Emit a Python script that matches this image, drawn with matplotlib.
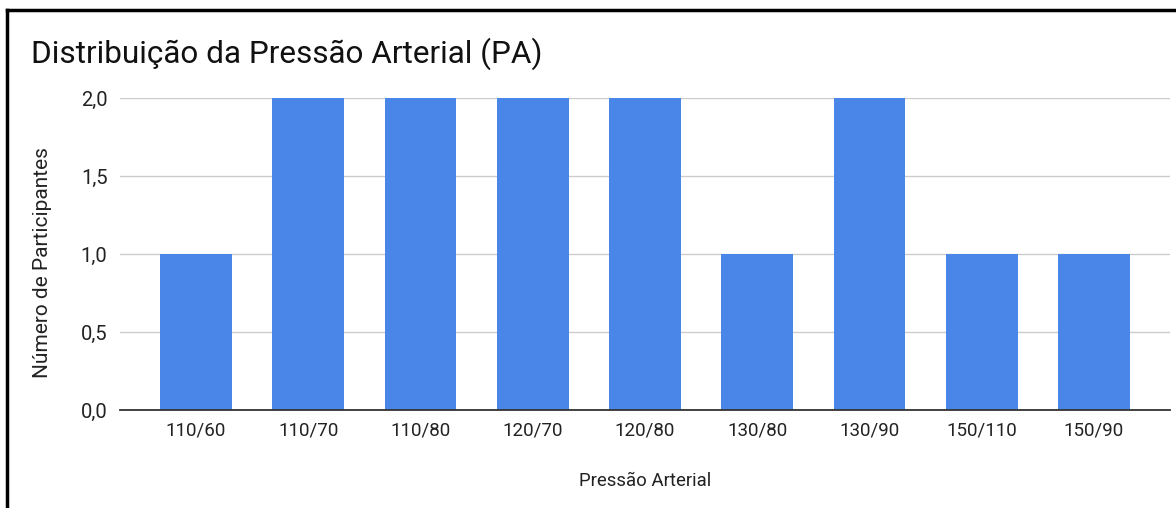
import matplotlib.pyplot as plt
from matplotlib.lines import Line2D

# Data
categorias = ['110/60', '110/70', '110/80', '120/70', '120/80',
              '130/80', '130/90', '150/110', '150/90']
participantes = [1, 2, 2, 2, 2, 1, 2, 1, 1]
yticks = [0.0, 0.5, 1.0, 1.5, 2.0]
ytick_labels = ['0,0', '0,5', '1,0', '1,5', '2,0']

plt.rcParams['font.family'] = ['Roboto', 'DejaVu Sans']

W, H = 1176, 508
fig = plt.figure(figsize=(W / 100, H / 100), dpi=100)
ax = fig.add_axes([120 / W, 1 - 410 / H, 1050 / W, 312 / H])

x = list(range(len(categorias)))
ax.bar(x, participantes, width=0.64, color='#4a86e8', zorder=3)

ax.set_xlim(-0.677, len(categorias) - 1 + 0.677)
ax.set_ylim(0, 2)
ax.set_yticks(yticks)
ax.set_yticklabels(ytick_labels)
ax.set_xticks(x)
ax.set_xticklabels(categorias)
ax.tick_params(axis='both', length=0, colors='#222222')
ax.tick_params(axis='x', pad=8, labelsize=13.5)
ax.tick_params(axis='y', pad=9, labelsize=14.5)

ax.grid(axis='y', color='#cccccc', linewidth=1, zorder=0)
for s in ['top', 'right', 'left']:
    ax.spines[s].set_visible(False)
ax.spines['bottom'].set_color('#333333')
ax.spines['bottom'].set_linewidth(1.3)
ax.spines['bottom'].set_zorder(4)

ax.set_xlabel('Pressão Arterial', fontsize=13.4, color='#222222', labelpad=24)
ax.set_ylabel('Número de Participantes', fontsize=15, color='#222222')
ax.yaxis.set_label_coords(-0.0648, 0.471)

fig.text(31 / W, 1 - 63 / H, 'Distribuição da Pressão Arterial (PA)',
         fontsize=22.7, color='#111111', ha='left', va='baseline')

# frame around the image
fig.add_artist(Line2D([7 / W, 7 / W], [0, 1 - 10 / H], color='black', linewidth=2.5,
                      transform=fig.transFigure))
fig.add_artist(Line2D([7 / W, 1], [1 - 10 / H, 1 - 10 / H], color='black', linewidth=2.5,
                      transform=fig.transFigure))

fig.savefig('out.png', dpi=100)
